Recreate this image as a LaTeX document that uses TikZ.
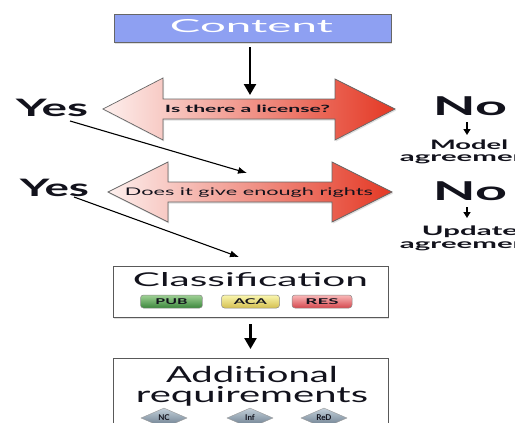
\documentclass[tikz,border=0pt]{standalone}
\usepackage{fontspec}
\setmainfont{Lato}
\usetikzlibrary{arrows.meta,shadows,shapes.geometric}
\definecolor{cblue}{RGB}{142,160,242}
\definecolor{ink}{RGB}{18,18,28}
\definecolor{arL}{RGB}{253,240,238}
\definecolor{arR}{RGB}{228,56,36}
\definecolor{pubT}{RGB}{160,210,150}
\definecolor{pubB}{RGB}{60,135,60}
\definecolor{acaT}{RGB}{250,246,175}
\definecolor{acaB}{RGB}{212,192,80}
\definecolor{resT}{RGB}{250,185,185}
\definecolor{resB}{RGB}{212,72,78}
\definecolor{diaT}{RGB}{195,208,218}
\definecolor{diaB}{RGB}{100,118,135}
\newcommand{\wtxt}[2]{\resizebox{#1pt}{\height}{#2}}
\begin{document}
\begin{tikzpicture}[x=1pt,y=-1pt,
 lbl/.style={inner sep=0pt,anchor=base,text=ink},
 shad/.style={drop shadow={opacity=0.25,shadow xshift=1pt,shadow yshift=-1.5pt}},
 boxstyle/.style={draw=black!65,line width=0.9pt,fill=white,shad,inner sep=0pt},
 bigarrow/.style={line width=2.4pt,-{Triangle[length=11pt,width=12pt]}},
 smallarrow/.style={line width=1.8pt,-{Triangle[length=6pt,width=7pt]}},
 thinarrow/.style={line width=1.1pt,-{Latex[length=9pt,width=7pt]}},
 dblarrow/.style={draw=black!60,line width=0.7pt,left color=arL,right color=arR,shad},
 pill/.style={draw=black!45,line width=0.5pt,rounded corners=3pt,minimum height=13pt,inner sep=0pt,text=ink},
 dia/.style={diamond,aspect=2.3,minimum width=46pt,minimum height=20pt,inner sep=0pt,draw=black!40,line width=0.4pt,top color=diaT,bottom color=diaB,text=ink},
]
\useasboundingbox (0,0) rectangle (515,423);
\clip (0,0) rectangle (515,423);
\fill[white] (0,0) rectangle (515,423);

% Content
\node[draw=black!60,line width=0.9pt,fill=cblue,minimum width=277pt,minimum height=28pt,inner sep=0pt,shad] (content) at (252.5,28) {};
\node[lbl,text=white] (contentTxt) at (251.5,33) {\fontsize{18}{18}\selectfont\wtxt{163}{Content}};

% double arrows
\path[dblarrow] (103,109) -- (163,78) -- (163,99) -- (335,99) -- (335,79) -- (395,109) -- (335,140) -- (335,119) -- (163,119) -- (163,140) -- cycle;
\path[dblarrow] (108,192) -- (168,162) -- (168,182) -- (332,182) -- (332,162) -- (392,192) -- (332,222) -- (332,202) -- (168,202) -- (168,222) -- cycle;
\node[lbl] (q1) at (247.5,112.5) {\fontsize{10}{10}\selectfont\bfseries\wtxt{165}{Is there a license?}};
\node[lbl] (q2) at (249,195.5) {\fontsize{10.5}{10.5}\selectfont\wtxt{248}{Does it give enough rights}};

\coordinate (q1top) at (250,95);
\draw[bigarrow,shorten <=5pt] (content.south -| q1top) -- (q1top);

% Yes labels
\node[lbl] (yes1) at (52,116) {\fontsize{24}{24}\selectfont\bfseries\wtxt{72}{Yes}};
\node[lbl] (yes2) at (54.5,196) {\fontsize{24}{24}\selectfont\bfseries\wtxt{69}{Yes}};
\coordinate (y1s) at (70,121);
\coordinate (y1e) at (247,173);
\coordinate (y2s) at (74,197);
\coordinate (y2e) at (239,257);
\draw[thinarrow] (y1s) -- (y1e);
\draw[thinarrow] (y2s) -- (y2e);

% No side
\node[lbl] (no1) at (470,115) {\fontsize{26}{26}\selectfont\bfseries\wtxt{74}{No}};
\node[lbl] (no2) at (470,200) {\fontsize{26}{26}\selectfont\bfseries\wtxt{74}{No}};
\node[lbl] (model) at (469,149) {\fontsize{13}{13}\selectfont\bfseries\wtxt{78}{Model}};
\node[lbl] (agr1) at (470,161) {\fontsize{13}{13}\selectfont\bfseries\wtxt{140}{agreement}};
\node[lbl] (update) at (470,235.5) {\fontsize{13}{13}\selectfont\bfseries\wtxt{96}{Update}};
\node[lbl] (agr2) at (470,248) {\fontsize{13}{13}\selectfont\bfseries\wtxt{140}{agreement}};
\coordinate (n1a) at (467,122); \coordinate (n1b) at (467,135);
\coordinate (n2a) at (467,207); \coordinate (n2b) at (467,218);
\draw[smallarrow] (n1a) -- (n1b);
\draw[smallarrow] (n2a) -- (n2b);

% Classification
\node[boxstyle,minimum width=275pt,minimum height=51pt] (classbox) at (250.5,291.5) {};
\node[lbl] (classTxt) at (250.5,286) {\fontsize{19}{19}\selectfont\wtxt{235}{Classification}};
\node[pill,minimum width=62pt,top color=pubT,bottom color=pubB] (pub) at (171.5,301.5) {\fontsize{8}{8}\selectfont\bfseries\wtxt{32}{PUB}};
\node[pill,minimum width=58pt,top color=acaT,bottom color=acaB] (aca) at (250.5,301.5) {\fontsize{8}{8}\selectfont\bfseries\wtxt{33}{ACA}};
\node[pill,minimum width=60pt,top color=resT,bottom color=resB] (res) at (322,301.5) {\fontsize{8}{8}\selectfont\bfseries\wtxt{33}{RES}};

% Additional requirements
\node[boxstyle,minimum width=275pt,minimum height=80pt,anchor=north] (addbox) at (250.5,358) {};
\draw[bigarrow,shorten <=7pt,shorten >=9pt] (classbox) -- (addbox);
\node[lbl] (addTxt) at (252,382) {\fontsize{22}{22}\selectfont\wtxt{172}{Additional}};
\node[lbl] (reqTxt) at (252,402) {\fontsize{22}{22}\selectfont\wtxt{232}{requirements}};
\node[dia] (nc) at (164,418) {\fontsize{8}{8}\selectfont\bfseries NC};
\node[dia] (inf) at (250,418) {\fontsize{8}{8}\selectfont\bfseries Inf};
\node[dia] (red) at (324,418) {\fontsize{8}{8}\selectfont\bfseries ReD};
\end{tikzpicture}
\end{document}
